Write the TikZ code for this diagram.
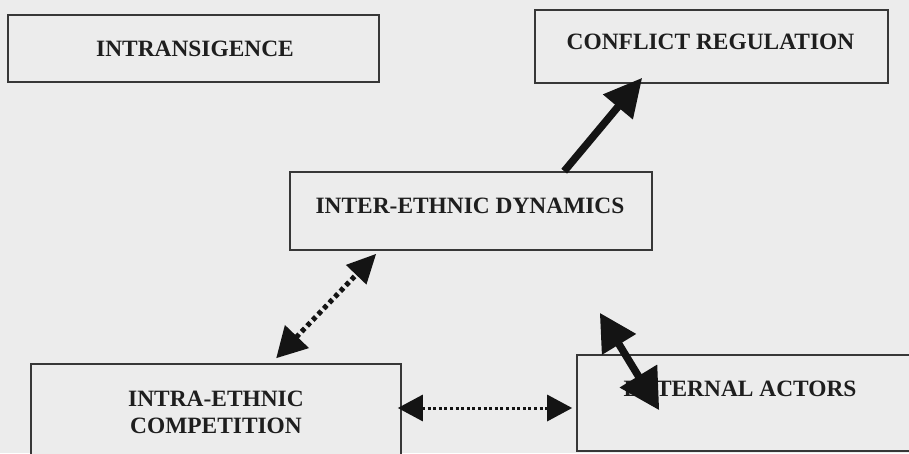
\documentclass[tikz,border=0pt]{standalone}
\usepackage{fontspec}
\setmainfont{Liberation Serif}
\usetikzlibrary{arrows.meta}
\definecolor{bgcol}{RGB}{236,236,236}
\definecolor{boxline}{RGB}{55,55,55}
\definecolor{txtcol}{RGB}{30,30,30}
\definecolor{arrcol}{RGB}{20,20,20}
\tikzset{
  boxshape/.style={draw=boxline, line width=1.6pt, fill=bgcol, inner sep=0pt, minimum width=#1},
  lbl/.style={inner sep=0pt, text=txtcol, font=\fontsize{23.4}{27}\selectfont\bfseries, align=center},
  solidarrow/.style={draw=arrcol, line width=7.5pt},
  thickdots/.style={draw=arrcol, line width=5pt, dash pattern=on 4.5pt off 3.5pt},
  thindots/.style={draw=arrcol, line width=3pt, dash pattern=on 3pt off 2.6pt},
}
\begin{document}
\begin{tikzpicture}[x=1pt,y=-1pt]
\useasboundingbox (0,0) rectangle (909,453);
\clip (0,0) rectangle (909,453);
\fill[bgcol] (0,0) rectangle (909,453);

% boxes
\node[boxshape=371pt, minimum height=67pt] (intr) at (193.5,48.5) {};
\node[boxshape=353pt, minimum height=73pt] (conf) at (711.5,46.5) {};
\node[boxshape=362pt, minimum height=78pt] (inter) at (471,211) {};
\node[boxshape=370pt, minimum height=97pt] (intra) at (216,412.5) {};
\node[boxshape=338pt, minimum height=96pt] (ext) at (746,403) {};

% texts
\node[lbl] (intrT) at (195,49) {INTRANSIGENCE};
\node[lbl] (confT) at (710.5,42) {CONFLICT REGULATION};
\node[lbl] (interT) at (470,205.5) {INTER-ETHNIC DYNAMICS};
\node[lbl] (intraT) at (216,412.5) {INTRA-ETHNIC\\COMPETITION};
\node[lbl] (extT) at (740,388.5) {EXTERNAL ACTORS};

% connectors
\draw[solidarrow, -{Triangle[length=38pt,width=37pt]}]
  ([xshift=275pt]inter.north west) -- ([xshift=108pt,yshift=6pt]conf.south west);
\draw[thickdots, {Triangle[length=30pt,width=32pt]}-{Triangle[length=29pt,width=27pt]}]
  ([xshift=246pt,yshift=5pt]intra.north west) -- ([xshift=87pt,yshift=-3pt]inter.south west);
\draw[thindots, {Triangle[length=25pt,width=26pt]}-{Triangle[length=25pt,width=26pt]}]
  ([xshift=-4pt,yshift=4.5pt]intra.east) -- ([xshift=-4pt,yshift=-5pt]ext.west);
\draw[solidarrow, {Triangle[length=37pt,width=38pt]}-{Triangle[length=40pt,width=42pt]}]
  ([xshift=-53pt,yshift=-62pt]inter.south east) -- ([xshift=83pt,yshift=-56pt]ext.north west);
\end{tikzpicture}
\end{document}
